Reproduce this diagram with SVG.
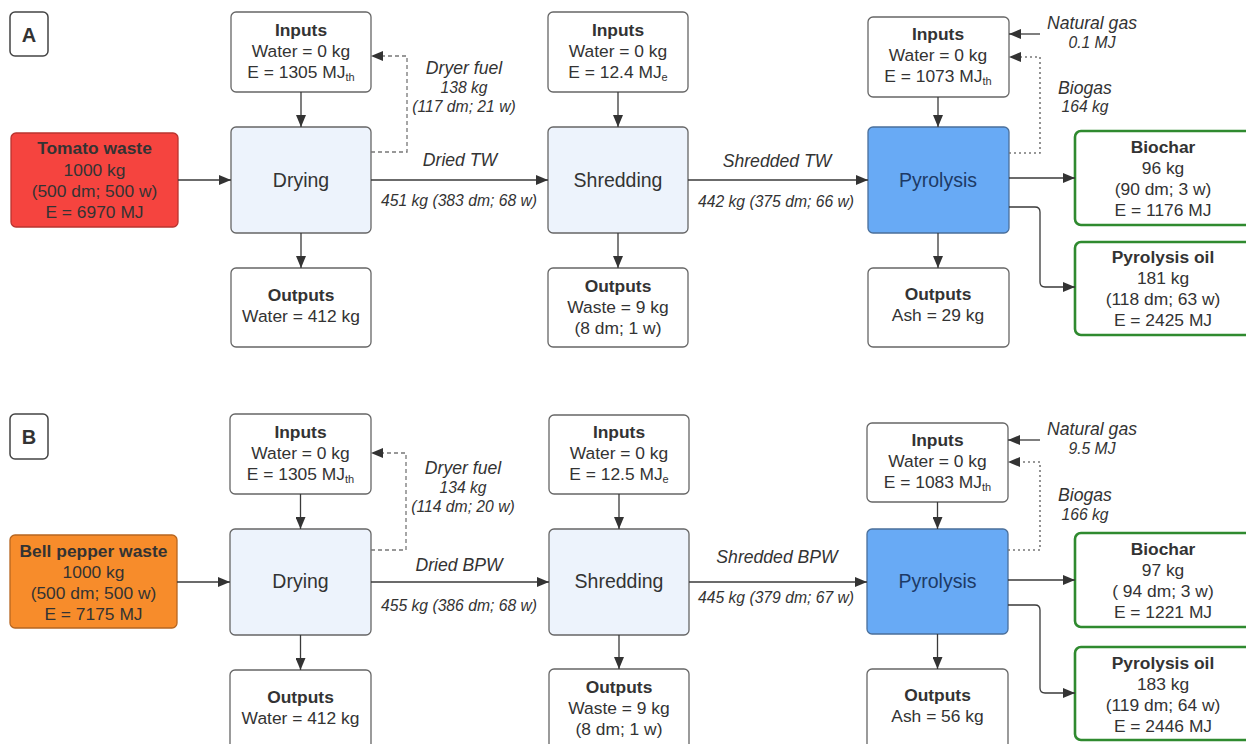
<svg xmlns="http://www.w3.org/2000/svg" width="1246" height="744" viewBox="0 0 1246 744">
  <defs>
    <marker id="arr" viewBox="0 0 12 10" refX="12" refY="5" markerWidth="12" markerHeight="10" markerUnits="userSpaceOnUse" orient="auto">
      <path d="M0,0 L12,5 L0,10 Z" fill="#333"/>
    </marker>
  </defs>
  <style>
    text { font-family: "Liberation Sans", Arial, sans-serif; fill: #333; text-anchor: middle; }
    .t { font-size: 17.400px; }
    .b { font-size: 17.400px; font-weight: bold; }
    .p { font-size: 19.500px; }
    .pb { font-size: 19.500px; fill: #1d3a66; }
    .li { font-size: 17.600px; font-style: italic; }
    .ls { font-size: 15.700px; font-style: italic; }
    .sub { font-size: 11px; }
    .box { fill: #fff; stroke: #666; stroke-width: 1.300; }
    .proc { fill: #edf3fc; stroke: #666; stroke-width: 1.300; }
    .pyro { fill: #68aaf5; stroke: #4a6f9a; stroke-width: 1.300; }
    .prod { fill: #fff; stroke: #2f8a2f; stroke-width: 2.600; }
    .lbl { fill: #fff; stroke: #444; stroke-width: 1.500; }
    .tomato { fill: #f5443f; stroke: #b9342f; stroke-width: 1.300; }
    .pepper { fill: #f78c2b; stroke: #b76620; stroke-width: 1.300; }
    .c { fill: none; stroke: #3a3a3a; stroke-width: 1.300; }
    .dash { fill: none; stroke: #777; stroke-width: 1.300; stroke-dasharray: 4 3; }
    .dot { fill: none; stroke: #777; stroke-width: 1.600; stroke-dasharray: 2 3; }
  </style>

  <!-- ===== Panel A ===== -->
  <g id="labelA"><rect class="lbl" x="10" y="12" width="38" height="44" rx="5"/><text x="29" y="42" style="font-size:20px;font-weight:bold">A</text></g>

  <g id="a-feed"><rect class="tomato" x="11" y="133" width="167" height="94" rx="5"/>
    <text class="b" x="94.500" y="154">Tomato waste</text>
    <text class="t" x="94.500" y="176">1000 kg</text>
    <text class="t" x="94.500" y="197">(500 dm; 500 w)</text>
    <text class="t" x="94.500" y="218">E = 6970 MJ</text></g>

  <g id="a-dry-in"><rect class="box" x="231" y="12" width="140" height="80" rx="5"/>
    <text class="b" x="301" y="36">Inputs</text>
    <text class="t" x="301" y="57">Water = 0 kg</text>
    <text class="t" x="301" y="78">E = 1305 MJ<tspan class="sub" dy="3">th</tspan></text></g>
  <g id="a-dry"><rect class="proc" x="231" y="127" width="140" height="106" rx="5"/><text class="p" x="301" y="187">Drying</text></g>
  <g id="a-dry-out"><rect class="box" x="231" y="268" width="140" height="79" rx="5"/>
    <text class="b" x="301" y="301">Outputs</text>
    <text class="t" x="301" y="322">Water = 412 kg</text></g>

  <g id="a-shr-in"><rect class="box" x="548" y="12" width="140" height="80" rx="5"/>
    <text class="b" x="618" y="36">Inputs</text>
    <text class="t" x="618" y="57">Water = 0 kg</text>
    <text class="t" x="618" y="78">E = 12.4 MJ<tspan class="sub" dy="3">e</tspan></text></g>
  <g id="a-shr"><rect class="proc" x="548" y="127" width="140" height="106" rx="5"/><text class="p" x="618" y="187">Shredding</text></g>
  <g id="a-shr-out"><rect class="box" x="548" y="268" width="140" height="79" rx="5"/>
    <text class="b" x="618" y="292">Outputs</text>
    <text class="t" x="618" y="313">Waste = 9 kg</text>
    <text class="t" x="618" y="334">(8 dm; 1 w)</text></g>

  <g id="a-pyr-in"><rect class="box" x="868" y="17" width="141" height="80" rx="5"/>
    <text class="b" x="938" y="40">Inputs</text>
    <text class="t" x="938" y="61">Water = 0 kg</text>
    <text class="t" x="938" y="82">E = 1073 MJ<tspan class="sub" dy="3">th</tspan></text></g>
  <g id="a-pyr"><rect class="pyro" x="868" y="127" width="141" height="106" rx="5"/><text class="pb" x="938" y="187">Pyrolysis</text></g>
  <g id="a-pyr-out"><rect class="box" x="868" y="268" width="141" height="79" rx="5"/>
    <text class="b" x="938" y="300">Outputs</text>
    <text class="t" x="938" y="321">Ash = 29 kg</text></g>

  <g id="a-biochar"><rect class="prod" x="1075" y="131" width="185" height="94" rx="6"/>
    <text class="b" x="1163" y="153">Biochar</text>
    <text class="t" x="1163" y="174">96 kg</text>
    <text class="t" x="1163" y="195">(90 dm; 3 w)</text>
    <text class="t" x="1163" y="216">E = 1176 MJ</text></g>
  <g id="a-oil"><rect class="prod" x="1075" y="242" width="185" height="93" rx="6"/>
    <text class="b" x="1163" y="263">Pyrolysis oil</text>
    <text class="t" x="1163" y="284">181 kg</text>
    <text class="t" x="1163" y="305">(118 dm; 63 w)</text>
    <text class="t" x="1163" y="326">E = 2425 MJ</text></g>

  <!-- ===== Panel B ===== -->
  <g id="labelB"><rect class="lbl" x="10" y="414" width="38" height="45" rx="5"/><text x="29" y="444" style="font-size:20px;font-weight:bold">B</text></g>

  <g id="b-feed"><rect class="pepper" x="10" y="535" width="167" height="93" rx="5"/>
    <text class="b" x="93.500" y="557">Bell pepper waste</text>
    <text class="t" x="93.500" y="578">1000 kg</text>
    <text class="t" x="93.500" y="599">(500 dm; 500 w)</text>
    <text class="t" x="93.500" y="620">E = 7175 MJ</text></g>

  <g id="b-dry-in"><rect class="box" x="230" y="414" width="141" height="80" rx="5"/>
    <text class="b" x="300.500" y="438">Inputs</text>
    <text class="t" x="300.500" y="459">Water = 0 kg</text>
    <text class="t" x="300.500" y="480">E = 1305 MJ<tspan class="sub" dy="3">th</tspan></text></g>
  <g id="b-dry"><rect class="proc" x="230" y="529" width="141" height="106" rx="5"/><text class="p" x="300.500" y="588">Drying</text></g>
  <g id="b-dry-out"><rect class="box" x="230" y="670" width="141" height="90" rx="5"/>
    <text class="b" x="300.500" y="703">Outputs</text>
    <text class="t" x="300.500" y="724">Water = 412 kg</text></g>

  <g id="b-shr-in"><rect class="box" x="549" y="415" width="140" height="79" rx="5"/>
    <text class="b" x="619" y="438">Inputs</text>
    <text class="t" x="619" y="459">Water = 0 kg</text>
    <text class="t" x="619" y="480">E = 12.5 MJ<tspan class="sub" dy="3">e</tspan></text></g>
  <g id="b-shr"><rect class="proc" x="549" y="529" width="140" height="106" rx="5"/><text class="p" x="619" y="588">Shredding</text></g>
  <g id="b-shr-out"><rect class="box" x="549" y="669" width="140" height="90" rx="5"/>
    <text class="b" x="619" y="693">Outputs</text>
    <text class="t" x="619" y="714">Waste = 9 kg</text>
    <text class="t" x="619" y="735">(8 dm; 1 w)</text></g>

  <g id="b-pyr-in"><rect class="box" x="867" y="423" width="141" height="79" rx="5"/>
    <text class="b" x="937.500" y="446">Inputs</text>
    <text class="t" x="937.500" y="467">Water = 0 kg</text>
    <text class="t" x="937.500" y="488">E = 1083 MJ<tspan class="sub" dy="3">th</tspan></text></g>
  <g id="b-pyr"><rect class="pyro" x="867" y="529" width="141" height="105" rx="5"/><text class="pb" x="937.500" y="588">Pyrolysis</text></g>
  <g id="b-pyr-out"><rect class="box" x="867" y="669" width="141" height="90" rx="5"/>
    <text class="b" x="937.500" y="701">Outputs</text>
    <text class="t" x="937.500" y="722">Ash = 56 kg</text></g>

  <g id="b-biochar"><rect class="prod" x="1075" y="533" width="185" height="94" rx="6"/>
    <text class="b" x="1163" y="555">Biochar</text>
    <text class="t" x="1163" y="576">97 kg</text>
    <text class="t" x="1163" y="597">( 94 dm; 3 w)</text>
    <text class="t" x="1163" y="618">E = 1221 MJ</text></g>
  <g id="b-oil"><rect class="prod" x="1075" y="647" width="185" height="93" rx="6"/>
    <text class="b" x="1163" y="669">Pyrolysis oil</text>
    <text class="t" x="1163" y="690">183 kg</text>
    <text class="t" x="1163" y="711">(119 dm; 64 w)</text>
    <text class="t" x="1163" y="732">E = 2446 MJ</text></g>

  <!-- ===== Connectors ===== -->
  <g id="connectors">
    <!-- panel A -->
    <path class="c" d="M178,180 H231" marker-end="url(#arr)"/>
    <path class="c" d="M301,92 V127" marker-end="url(#arr)"/>
    <path class="c" d="M301,233 V268" marker-end="url(#arr)"/>
    <path class="dash" d="M371,152 H407 V56 H383"/>
    <path d="M371,56 L383,51 L383,61 Z" fill="#333"/>
    <path class="c" d="M371,180 H548" marker-end="url(#arr)"/>
    <path class="c" d="M618,92 V127" marker-end="url(#arr)"/>
    <path class="c" d="M618,233 V268" marker-end="url(#arr)"/>
    <path class="c" d="M688,180 H868" marker-end="url(#arr)"/>
    <path class="c" d="M938,97 V127" marker-end="url(#arr)"/>
    <path class="c" d="M938,233 V268" marker-end="url(#arr)"/>
    <path class="c" d="M1040,34 H1009" marker-end="url(#arr)"/>
    <path class="dot" d="M1009,153 H1040 V57 H1021"/>
    <path d="M1009,57 L1021,52 L1021,62 Z" fill="#333"/>
    <path class="c" d="M1009,178 H1075" marker-end="url(#arr)"/>
    <path class="c" d="M1009,207 H1035 Q1040,207 1040,212 V282 Q1040,287 1045,287 H1075" marker-end="url(#arr)"/>

    <!-- panel B -->
    <path class="c" d="M177,582 H230" marker-end="url(#arr)"/>
    <path class="c" d="M300.500,494 V529" marker-end="url(#arr)"/>
    <path class="c" d="M300.500,635 V670" marker-end="url(#arr)"/>
    <path class="dash" d="M371,550 H406 V453 H383"/>
    <path d="M371,453 L383,448 L383,458 Z" fill="#333"/>
    <path class="c" d="M371,582 H549" marker-end="url(#arr)"/>
    <path class="c" d="M619,494 V529" marker-end="url(#arr)"/>
    <path class="c" d="M619,635 V669" marker-end="url(#arr)"/>
    <path class="c" d="M689,582 H867" marker-end="url(#arr)"/>
    <path class="c" d="M937.500,502 V529" marker-end="url(#arr)"/>
    <path class="c" d="M937.500,634 V669" marker-end="url(#arr)"/>
    <path class="c" d="M1040,440 H1008" marker-end="url(#arr)"/>
    <path class="dot" d="M1008,550 H1040 V462 H1020"/>
    <path d="M1008,462 L1020,457 L1020,467 Z" fill="#333"/>
    <path class="c" d="M1008,580 H1075" marker-end="url(#arr)"/>
    <path class="c" d="M1008,605 H1035 Q1040,605 1040,610 V688 Q1040,693 1045,693 H1075" marker-end="url(#arr)"/>
  </g>

  <!-- connector labels -->
  <g id="flow-labels">
    <text class="li" x="464" y="74">Dryer fuel</text>
    <text class="ls" x="464" y="93">138 kg</text>
    <text class="ls" x="464" y="112">(117 dm; 21 w)</text>
    <text class="li" x="460" y="166">Dried TW</text>
    <text class="ls" x="459" y="206">451 kg (383 dm; 68 w)</text>
    <text class="li" x="777" y="167">Shredded TW</text>
    <text class="ls" x="776" y="207">442 kg (375 dm; 66 w)</text>
    <text class="li" x="1092" y="29">Natural gas</text>
    <text class="ls" x="1092" y="48">0.1 MJ</text>
    <text class="li" x="1085" y="94">Biogas</text>
    <text class="ls" x="1085" y="112">164 kg</text>

    <text class="li" x="463" y="474">Dryer fuel</text>
    <text class="ls" x="463" y="493">134 kg</text>
    <text class="ls" x="463" y="512">(114 dm; 20 w)</text>
    <text class="li" x="459" y="571">Dried BPW</text>
    <text class="ls" x="459" y="611">455 kg (386 dm; 68 w)</text>
    <text class="li" x="777" y="563">Shredded BPW</text>
    <text class="ls" x="776" y="603">445 kg (379 dm; 67 w)</text>
    <text class="li" x="1092" y="435">Natural gas</text>
    <text class="ls" x="1092" y="454">9.5 MJ</text>
    <text class="li" x="1085" y="501">Biogas</text>
    <text class="ls" x="1085" y="520">166 kg</text>
  </g>
</svg>
